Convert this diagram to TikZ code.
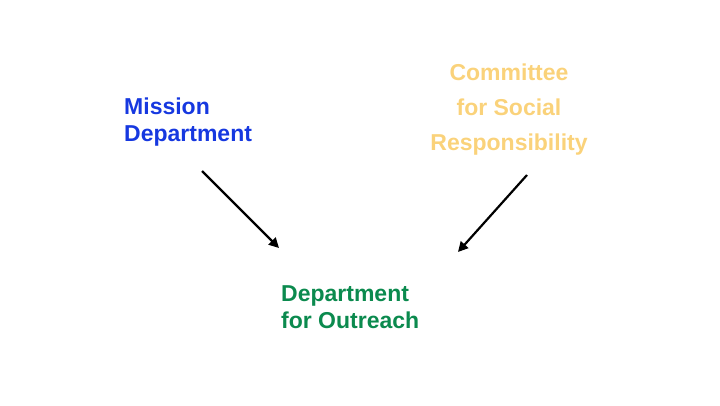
\documentclass[tikz,border=0pt]{standalone}
\usepackage{fontspec}
\setmainfont{Liberation Sans}
\usetikzlibrary{arrows.meta}
\definecolor{mblue}{HTML}{1638E0}
\definecolor{morange}{HTML}{FAD27A}
\definecolor{mgreen}{HTML}{0B8A4E}
\tikzset{lbl/.style={font=\bfseries\fontsize{23}{27}\selectfont, inner sep=0pt},
arr/.style={line width=2.2pt,-{Triangle[length=10pt,width=10pt]}}}
\begin{document}
\begin{tikzpicture}[x=1pt,y=1pt]
\useasboundingbox (0,0) rectangle (720,405);
\node[lbl,text=mblue,align=left,anchor=west] (m) at (124,283) {Mission\\Department};
\node[lbl,text=morange,align=center,font=\bfseries\fontsize{23}{35}\selectfont] (c) at (509,295) {Committee\\for Social\\Responsibility};
\node[lbl,text=mgreen,align=left,anchor=west] (d) at (281,98) {Department\\for Outreach};
\coordinate (a1) at (202,234); \coordinate (a2) at (279,157);
\coordinate (b1) at (527,230); \coordinate (b2) at (458,153);
\draw[arr] (a1) -- (a2);
\draw[arr] (b1) -- (b2);
\end{tikzpicture}
\end{document}
